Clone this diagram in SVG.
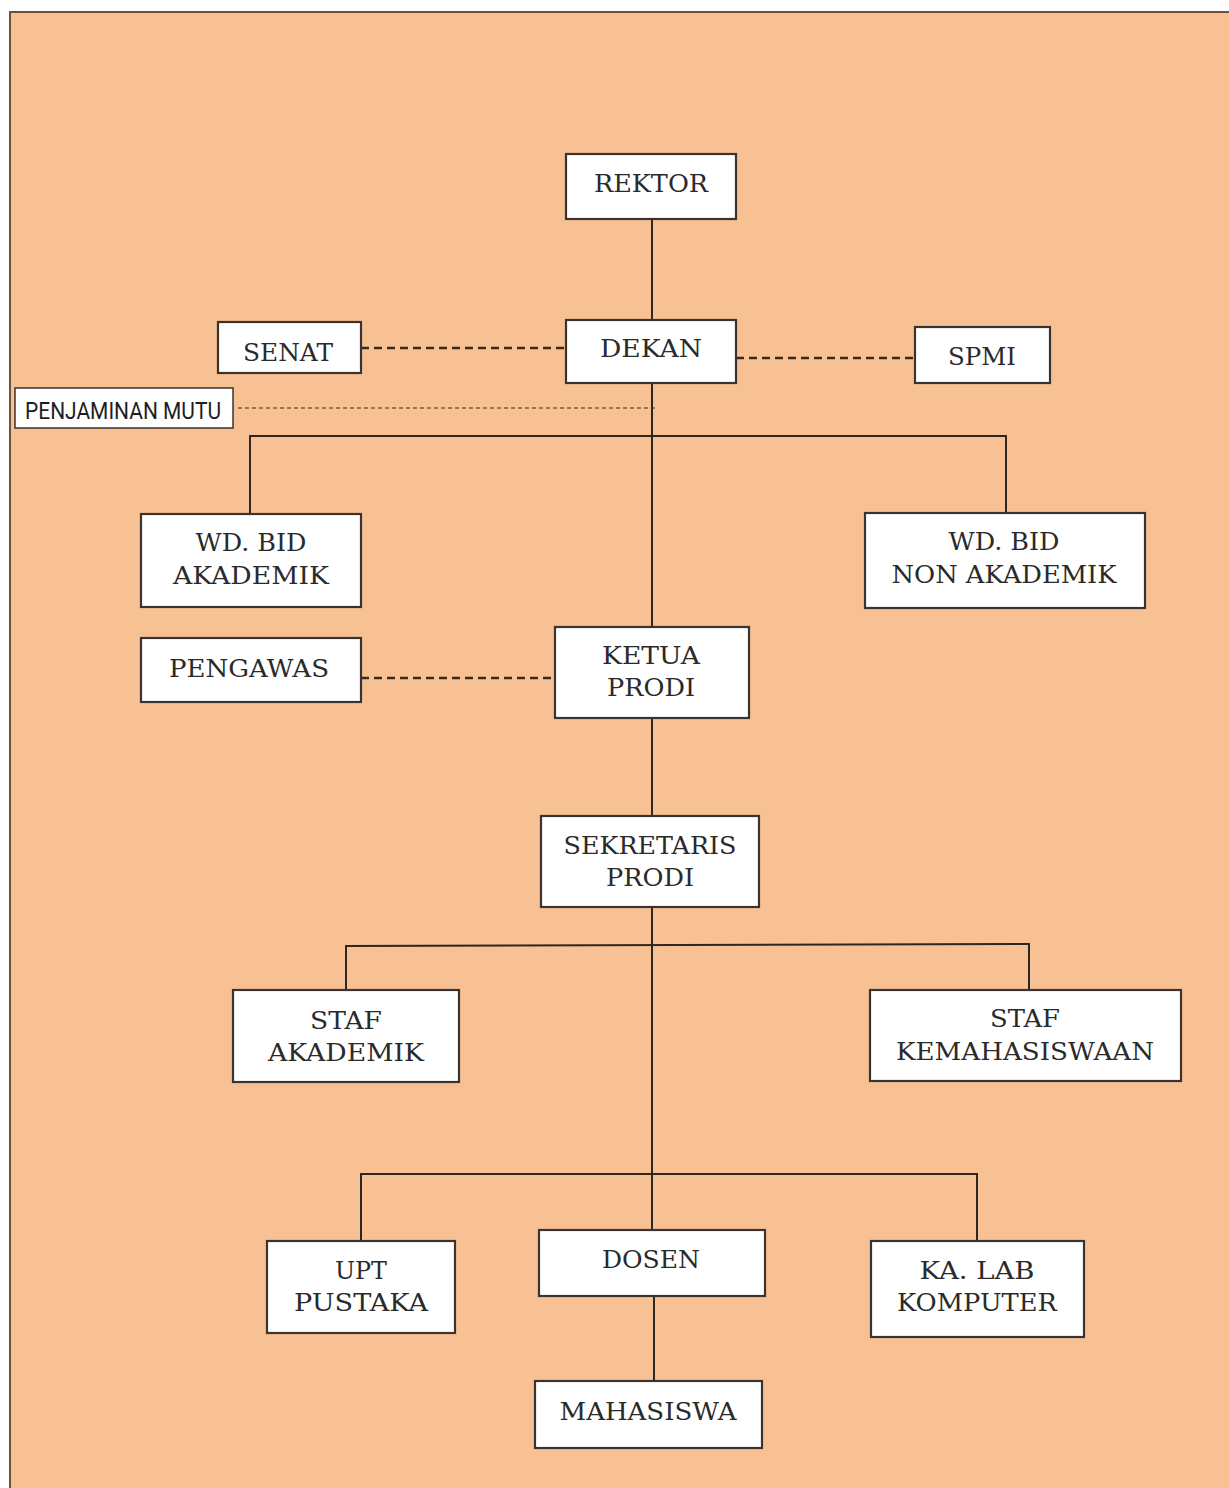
<svg xmlns="http://www.w3.org/2000/svg" width="1229" height="1488" viewBox="0 0 1229 1488">
<style>
.bg{fill:#F8C194;stroke:#6e5136;stroke-width:2}
.box{fill:#ffffff;stroke:#3b3330;stroke-width:2.2}
.t{font-family:"DejaVu Serif","Liberation Serif",serif;font-size:24px;fill:#2a2a2a;text-anchor:middle}
.s{font-family:Roboto,"Liberation Sans",sans-serif;font-size:24px;fill:#1e1e1e;text-anchor:middle}
.ln{stroke:#2e2620;stroke-width:2;fill:none}
.d{stroke:#3a2a1c;stroke-width:2.5;stroke-dasharray:8 5;fill:none}
.d2{stroke:#3a2a1c;stroke-width:1.2;stroke-dasharray:4 3;fill:none}
</style>
<rect class="bg" x="10" y="12" width="1230" height="1490"/>
<g id="connectors">
<line class="ln" x1="652" y1="219" x2="652" y2="320"/>
<line class="ln" x1="652" y1="383" x2="652" y2="627"/>
<polyline class="ln" points="250,514 250,436 1006,436 1006,513"/>
<line class="ln" x1="652" y1="718" x2="652" y2="816"/>
<line class="ln" x1="652" y1="907" x2="652" y2="1230"/>
<polyline class="ln" points="346,990 346,946 1029,944 1029,990"/>
<polyline class="ln" points="361,1241 361,1174 977,1174 977,1241"/>
<line class="ln" x1="654" y1="1296" x2="654" y2="1381"/>
<line class="d" x1="361" y1="348" x2="566" y2="348"/>
<line class="d" x1="736" y1="358" x2="915" y2="358"/>
<line class="d2" x1="238" y1="408" x2="658" y2="408"/>
<line class="d" x1="361" y1="678" x2="555" y2="678"/>
</g>
<g id="rektor"><rect class="box" x="566" y="154" width="170" height="65"/><text class="t" x="651" y="192" textLength="114" lengthAdjust="spacingAndGlyphs">REKTOR</text></g>
<g id="dekan"><rect class="box" x="566" y="320" width="170" height="63"/><text class="t" x="651" y="357" textLength="102" lengthAdjust="spacingAndGlyphs">DEKAN</text></g>
<g id="senat"><rect class="box" x="218" y="322" width="143" height="51"/><text class="t" x="288" y="361" textLength="90" lengthAdjust="spacingAndGlyphs">SENAT</text></g>
<g id="spmi"><rect class="box" x="915" y="327" width="135" height="56"/><text class="t" x="982" y="365" textLength="68" lengthAdjust="spacingAndGlyphs">SPMI</text></g>
<g id="penjaminan-mutu"><rect class="box" x="15" y="388" width="218" height="40" style="stroke-width:1.5"/><text class="s" x="123" y="419" textLength="196" lengthAdjust="spacingAndGlyphs">PENJAMINAN MUTU</text></g>
<g id="wd-akademik"><rect class="box" x="141" y="514" width="220" height="93"/><text class="t" x="251" y="551" textLength="111" lengthAdjust="spacingAndGlyphs">WD. BID</text><text class="t" x="251" y="584" textLength="156" lengthAdjust="spacingAndGlyphs">AKADEMIK</text></g>
<g id="wd-non-akademik"><rect class="box" x="865" y="513" width="280" height="95"/><text class="t" x="1004" y="550" textLength="111" lengthAdjust="spacingAndGlyphs">WD. BID</text><text class="t" x="1004" y="583" textLength="225" lengthAdjust="spacingAndGlyphs">NON AKADEMIK</text></g>
<g id="pengawas"><rect class="box" x="141" y="638" width="220" height="64"/><text class="t" x="249" y="677" textLength="160" lengthAdjust="spacingAndGlyphs">PENGAWAS</text></g>
<g id="ketua-prodi"><rect class="box" x="555" y="627" width="194" height="91"/><text class="t" x="651" y="664" textLength="98" lengthAdjust="spacingAndGlyphs">KETUA</text><text class="t" x="651" y="696" textLength="88" lengthAdjust="spacingAndGlyphs">PRODI</text></g>
<g id="sekretaris-prodi"><rect class="box" x="541" y="816" width="218" height="91"/><text class="t" x="650" y="854" textLength="173" lengthAdjust="spacingAndGlyphs">SEKRETARIS</text><text class="t" x="650" y="886" textLength="88" lengthAdjust="spacingAndGlyphs">PRODI</text></g>
<g id="staf-akademik"><rect class="box" x="233" y="990" width="226" height="92"/><text class="t" x="346" y="1029" textLength="72" lengthAdjust="spacingAndGlyphs">STAF</text><text class="t" x="346" y="1061" textLength="156" lengthAdjust="spacingAndGlyphs">AKADEMIK</text></g>
<g id="staf-kemahasiswaan"><rect class="box" x="870" y="990" width="311" height="91"/><text class="t" x="1025" y="1027" textLength="70" lengthAdjust="spacingAndGlyphs">STAF</text><text class="t" x="1025" y="1060" textLength="258" lengthAdjust="spacingAndGlyphs">KEMAHASISWAAN</text></g>
<g id="upt-pustaka"><rect class="box" x="267" y="1241" width="188" height="92"/><text class="t" x="361" y="1279" textLength="52" lengthAdjust="spacingAndGlyphs">UPT</text><text class="t" x="361" y="1311" textLength="134" lengthAdjust="spacingAndGlyphs">PUSTAKA</text></g>
<g id="dosen"><rect class="box" x="539" y="1230" width="226" height="66"/><text class="t" x="651" y="1268" textLength="98" lengthAdjust="spacingAndGlyphs">DOSEN</text></g>
<g id="ka-lab-komputer"><rect class="box" x="871" y="1241" width="213" height="96"/><text class="t" x="977" y="1279" textLength="115" lengthAdjust="spacingAndGlyphs">KA. LAB</text><text class="t" x="977" y="1311" textLength="160" lengthAdjust="spacingAndGlyphs">KOMPUTER</text></g>
<g id="mahasiswa"><rect class="box" x="535" y="1381" width="227" height="67"/><text class="t" x="648" y="1420" textLength="177" lengthAdjust="spacingAndGlyphs">MAHASISWA</text></g>
</svg>
